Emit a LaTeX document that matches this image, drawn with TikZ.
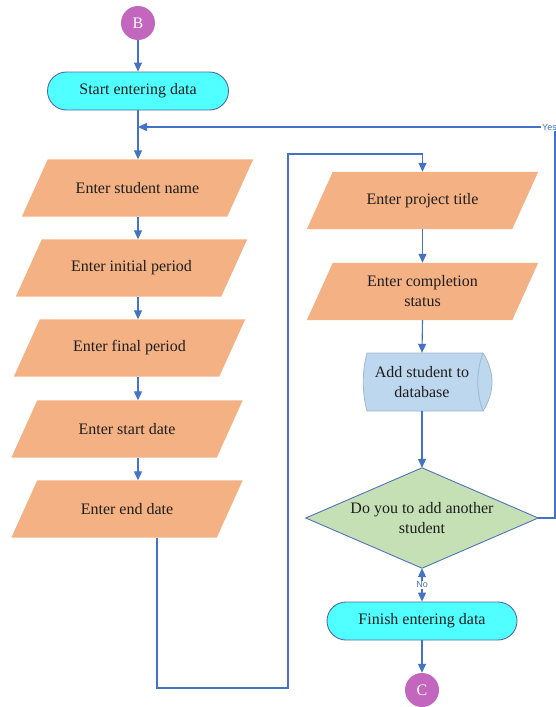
\documentclass[tikz,border=0pt]{standalone}
\usepackage{fontspec}
\setmainfont{Liberation Serif}
\newfontfamily\labelsans{Liberation Sans}
\usetikzlibrary{arrows.meta,calc}
\pgfdeclarelayer{background}
\pgfsetlayers{background,main}

\definecolor{linkblue}{RGB}{68,114,196}
\definecolor{termfill}{RGB}{80,255,255}
\definecolor{termedge}{RGB}{84,104,168}
\definecolor{inputfill}{RGB}{244,177,131}
\definecolor{storefill}{RGB}{189,215,238}
\definecolor{storeedge}{RGB}{160,182,210}
\definecolor{decfill}{RGB}{197,224,180}
\definecolor{decedge}{RGB}{80,115,190}
\definecolor{connfill}{RGB}{194,102,190}
\definecolor{inktext}{RGB}{30,30,30}

\tikzset{
  txt/.style={font=\fontsize{16}{20}\selectfont, text=inktext, align=center, inner sep=0pt},
  terminal/.style={txt, draw=termedge, line width=0.9pt, fill=termfill,
    rounded corners=19pt, minimum height=38pt},
  inputbox/.style={txt, minimum width=205pt, minimum height=57pt},
  connector/.style={circle, fill=connfill, minimum size=34pt, inner sep=0pt,
    text=white, font=\fontsize{16}{20}\selectfont},
  flow/.style={draw=linkblue, line width=1.1pt, -{Triangle[length=9pt,width=8pt]}},
  branchlabel/.style={fill=white, inner sep=1pt, text=linkblue,
    font=\labelsans\fontsize{9}{10}\selectfont},
}

% orange input/output parallelogram behind a named node
\newcommand\slantfill[1]{%
  \begin{pgfonlayer}{background}
    \fill[inputfill] ([xshift=-13pt]#1.south west) -- ([xshift=-13pt]#1.south east)
      -- ([xshift=13pt]#1.north east) -- ([xshift=13pt]#1.north west) -- cycle;
  \end{pgfonlayer}}

\begin{document}
\begin{tikzpicture}[x=1pt,y=-1pt]
\useasboundingbox (0,0) rectangle (556,707);
\begin{pgfonlayer}{background}
  \fill[white] (0,0) rectangle (556,707);
\end{pgfonlayer}

% ---- left column ----
\node[connector] (B) at (138,23) {B};
\node[terminal, minimum width=181pt] (start) at (138,91) {Start entering data};

\node[inputbox] (p1) at (137.5,188) {Enter student name};
\node[inputbox] (p2) at (131.5,268) {Enter initial period};
\node[inputbox] (p3) at (129.5,348) {Enter final period};
\node[inputbox] (p4) at (127,429) {Enter start date};
\node[inputbox] (p5) at (127,509) {Enter end date};
\foreach \n in {p1,p2,p3,p4,p5} {\slantfill{\n}}

% ---- right column ----
\node[inputbox] (r1) at (422.5,200.5) {Enter project title};
\node[inputbox] (r2) at (422.5,291.5) {Enter completion\\status};
\slantfill{r1}
\slantfill{r2}

\node[txt, minimum width=116pt, minimum height=58pt] (db) at (422,382) {Add student to\\database};
\begin{pgfonlayer}{background}
  \begin{scope}[shift={(db.center)}]
    \filldraw[fill=storefill, draw=storeedge, line width=0.8pt]
      (-55,-29) .. controls (-60,-10) and (-60,10) .. (-55,29)
      -- (61,29) .. controls (73,10) and (73,-10) .. (61,-29) -- cycle;
    \draw[storeedge, line width=0.8pt]
      (61,-29) .. controls (54,-10) and (54,10) .. (61,29);
  \end{scope}
\end{pgfonlayer}

\node[txt, minimum width=232pt, minimum height=100pt] (dia) at (422,518) {Do you to add another\\student};
\begin{pgfonlayer}{background}
  \filldraw[fill=decfill, draw=decedge, line width=0.9pt]
    (dia.west) -- (dia.north) -- (dia.east) -- (dia.south) -- cycle;
\end{pgfonlayer}

\node[terminal, minimum width=190pt] (finish) at (422,621) {Finish entering data};
\node[connector] (C) at (422,690) {C};

% ---- connectors ----
\coordinate (loopjoin) at (138,127);
\coordinate (yescorner) at (555,127);
\coordinate (bendlow) at (288,688);
\coordinate (bendhigh) at (288,154);

\draw[flow] (B.south) -- (start.north);
\draw[flow] (start.south) -- (start.south |- p1.north);
\draw[flow] (start.south |- p1.south) -- (start.south |- p2.north);
\draw[flow] (start.south |- p2.south) -- (start.south |- p3.north);
\draw[flow] (start.south |- p3.south) -- (start.south |- p4.north);
\draw[flow] (start.south |- p4.south) -- (start.south |- p5.north);

\draw[flow] ([xshift=30pt]p5.south) |- (bendlow) -- (bendhigh) -| (r1.north);

\draw[flow] (r1.south) -- (r2.north);
\draw[flow] (r2.south) -- (db.north);
\draw[flow] (db.south) -- (dia.north);

\draw[flow] (dia.east) -| (yescorner) -- (loopjoin);
\node[branchlabel, anchor=west] at ([xshift=-14pt]yescorner) {Yes};

\draw[flow, {Triangle[length=9pt,width=8pt]}-{Triangle[length=9pt,width=8pt]}]
  (dia.south) -- node[branchlabel] {No} (finish.north);
\draw[flow] (finish.south) -- (C.north);
\end{tikzpicture}
\end{document}
